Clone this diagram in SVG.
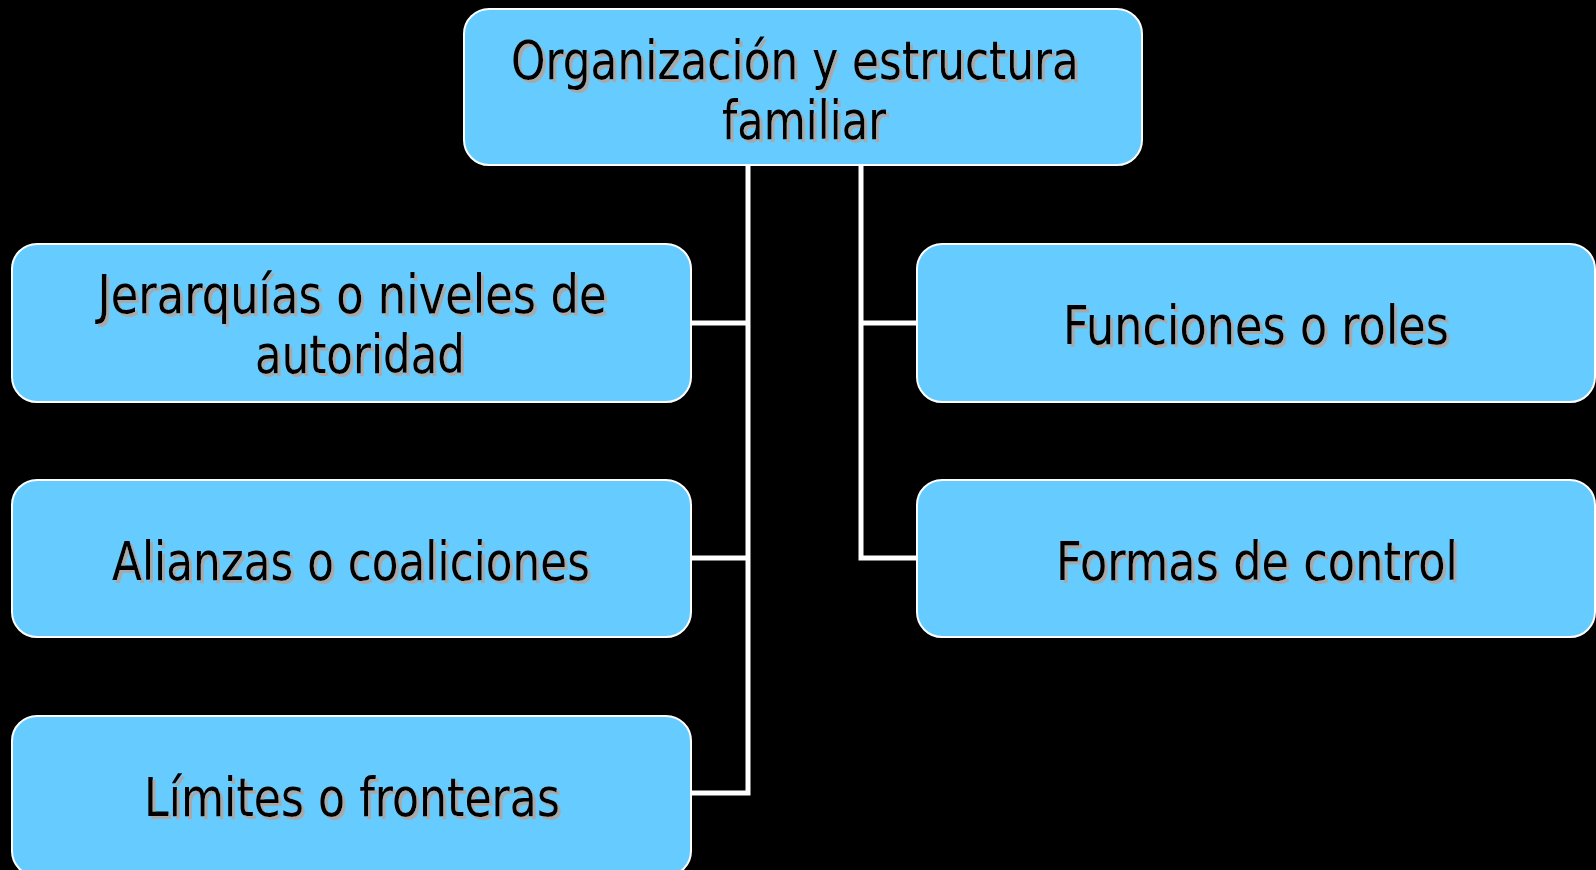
<svg xmlns="http://www.w3.org/2000/svg" width="1596" height="870" viewBox="0 0 1596 870">
<defs>
<filter id="sh" x="-5%" y="-20%" width="110%" height="140%">
<feOffset in="SourceAlpha" dx="2.5" dy="2.5" result="o"/>
<feFlood flood-color="#a8a8a8"/>
<feComposite in2="o" operator="in" result="s"/>
<feMerge><feMergeNode in="s"/><feMergeNode in="SourceGraphic"/></feMerge>
</filter>
</defs>
<style>
.box{fill:#66CCFF;stroke:#ffffff;stroke-width:2}
.t{font-family:"DejaVu Sans Condensed","DejaVu Sans",sans-serif;font-size:53px;fill:#000;text-anchor:middle;filter:url(#sh)}
.c{stroke:#ffffff;stroke-width:5;fill:none}
</style>
<rect width="1596" height="870" fill="#000"/>
<g id="connectors">
<polyline class="c" points="748,165 748,793 691,793"/>
<line class="c" x1="691" y1="323" x2="748" y2="323"/>
<line class="c" x1="691" y1="558" x2="748" y2="558"/>
<polyline class="c" points="861,165 861,558 917,558"/>
<line class="c" x1="861" y1="323" x2="917" y2="323"/>
</g>
<g id="n0">
<rect class="box" x="464" y="9" width="678" height="156" rx="25"/>
<text class="t" x="795" y="79" textLength="568" lengthAdjust="spacingAndGlyphs">Organización y estructura</text>
<text class="t" x="804" y="139" textLength="164" lengthAdjust="spacingAndGlyphs">familiar</text>
</g>
<g id="n1">
<rect class="box" x="12" y="244" width="679" height="158" rx="25"/>
<text class="t" x="352" y="313" textLength="509" lengthAdjust="spacingAndGlyphs">Jerarquías o niveles de</text>
<text class="t" x="360" y="373" textLength="210" lengthAdjust="spacingAndGlyphs">autoridad</text>
</g>
<g id="n2">
<rect class="box" x="12" y="480" width="679" height="157" rx="25"/>
<text class="t" x="351" y="580" textLength="478" lengthAdjust="spacingAndGlyphs">Alianzas o coaliciones</text>
</g>
<g id="n3">
<rect class="box" x="12" y="716" width="679" height="160" rx="25"/>
<text class="t" x="352" y="816" textLength="416" lengthAdjust="spacingAndGlyphs">Límites o fronteras</text>
</g>
<g id="n4">
<rect class="box" x="917" y="244" width="678" height="158" rx="25"/>
<text class="t" x="1256" y="344" textLength="386" lengthAdjust="spacingAndGlyphs">Funciones o roles</text>
</g>
<g id="n5">
<rect class="box" x="917" y="480" width="678" height="157" rx="25"/>
<text class="t" x="1257" y="580" textLength="402" lengthAdjust="spacingAndGlyphs">Formas de control</text>
</g>
</svg>
